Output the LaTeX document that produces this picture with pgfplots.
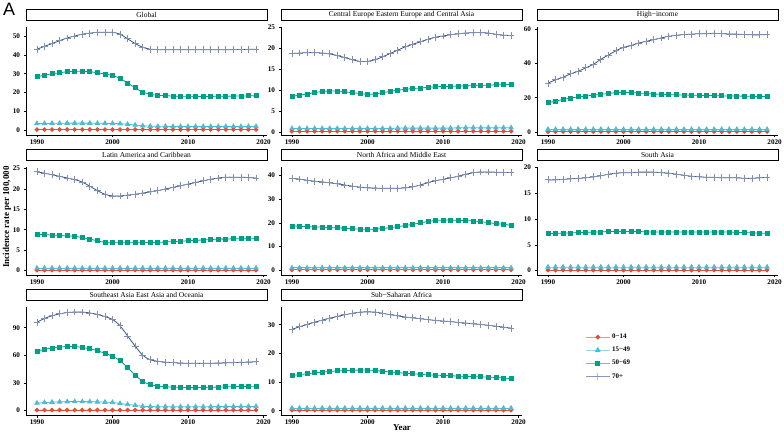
\documentclass[border=0pt]{standalone}
\usepackage{pgfplots}
\usepackage{pgfplotstable}
\pgfplotsset{compat=1.18}
\usepackage{fontspec}
\setmainfont{Liberation Serif}
\newfontfamily\labfont{Liberation Sans}
\definecolor{c0}{HTML}{E64B35}
\definecolor{c1}{HTML}{4DBBD5}
\definecolor{c2}{HTML}{00A087}
\definecolor{c3}{HTML}{3C5488}

% columns: year, 0-14, 15-49, 50-69, 70+
\pgfplotstableread{
yr a b c d
1990 0.3 3.5 28.3 43.0
1991 0.3 3.5 29.2 44.5
1992 0.3 3.6 29.9 46.0
1993 0.3 3.6 30.5 47.5
1994 0.3 3.7 31.0 49.0
1995 0.3 3.7 31.3 50.0
1996 0.3 3.7 31.3 51.0
1997 0.3 3.7 31.0 51.5
1998 0.3 3.6 30.5 52.0
1999 0.3 3.6 29.8 52.0
2000 0.3 3.5 29.0 52.0
2001 0.3 3.4 27.5 51.0
2002 0.3 3.1 25.0 48.5
2003 0.3 2.7 22.5 46.0
2004 0.3 2.3 20.2 44.0
2005 0.3 2.1 19.0 43.0
2006 0.3 2.0 18.5 42.8
2007 0.3 2.0 18.3 42.7
2008 0.3 1.9 18.1 42.7
2009 0.3 1.9 18.0 42.7
2010 0.3 1.9 18.0 42.7
2011 0.3 1.9 17.9 42.7
2012 0.3 1.9 17.9 42.7
2013 0.3 1.9 17.9 42.7
2014 0.3 1.9 18.0 42.7
2015 0.3 1.9 18.0 42.7
2016 0.3 1.9 18.1 42.8
2017 0.3 1.9 18.1 42.8
2018 0.3 1.9 18.2 42.9
2019 0.3 1.9 18.2 43.0
}\tglobal

\pgfplotstableread{
yr a b c d
1990 0.15 0.8 8.5 18.8
1991 0.15 0.8 8.8 18.9
1992 0.15 0.8 9.1 19.0
1993 0.15 0.8 9.4 19.0
1994 0.15 0.8 9.7 18.9
1995 0.15 0.8 9.8 18.7
1996 0.15 0.8 9.8 18.3
1997 0.15 0.8 9.6 17.8
1998 0.15 0.8 9.4 17.3
1999 0.15 0.8 9.2 16.9
2000 0.15 0.8 9.0 16.9
2001 0.15 0.8 9.1 17.3
2002 0.15 0.8 9.4 18.0
2003 0.15 0.8 9.7 18.8
2004 0.15 0.9 10.0 19.6
2005 0.15 0.9 10.2 20.4
2006 0.15 0.9 10.4 21.0
2007 0.15 0.9 10.5 21.6
2008 0.15 0.9 10.7 22.2
2009 0.15 0.9 10.8 22.7
2010 0.15 0.9 10.9 23.0
2011 0.15 0.9 10.9 23.3
2012 0.15 1.0 11.0 23.5
2013 0.15 1.0 11.0 23.7
2014 0.15 1.0 11.1 23.8
2015 0.15 1.0 11.2 23.8
2016 0.15 1.0 11.2 23.7
2017 0.15 1.0 11.3 23.4
2018 0.15 1.0 11.3 23.2
2019 0.15 1.0 11.4 23.1
}\tceea

\pgfplotstableread{
yr a b c d
1990 0.2 1.5 17.0 28.5
1991 0.2 1.5 18.0 30.5
1992 0.2 1.5 19.0 32.0
1993 0.2 1.5 19.8 34.0
1994 0.2 1.5 20.5 35.5
1995 0.2 1.5 21.0 37.5
1996 0.2 1.5 21.5 39.5
1997 0.2 1.5 22.0 42.5
1998 0.2 1.5 22.5 45.0
1999 0.2 1.5 23.0 47.5
2000 0.2 1.5 23.2 49.5
2001 0.2 1.5 23.0 50.5
2002 0.2 1.5 22.8 52.0
2003 0.2 1.5 22.5 53.0
2004 0.2 1.5 22.2 54.0
2005 0.2 1.5 22.0 55.0
2006 0.2 1.5 21.8 56.0
2007 0.2 1.5 21.7 56.5
2008 0.2 1.5 21.6 57.0
2009 0.2 1.5 21.5 57.2
2010 0.2 1.5 21.4 57.5
2011 0.2 1.5 21.3 57.5
2012 0.2 1.5 21.2 57.7
2013 0.2 1.5 21.1 57.5
2014 0.2 1.5 21.0 57.3
2015 0.2 1.5 21.0 57.2
2016 0.2 1.5 20.9 57.0
2017 0.2 1.5 20.8 56.8
2018 0.2 1.5 20.8 56.8
2019 0.2 1.5 20.8 57.0
}\thigh

\pgfplotstableread{
yr a b c d
1990 0.1 0.6 8.9 24.2
1991 0.1 0.6 8.8 23.9
1992 0.1 0.6 8.7 23.5
1993 0.1 0.6 8.6 23.1
1994 0.1 0.6 8.5 22.7
1995 0.1 0.6 8.4 22.3
1996 0.1 0.6 8.1 21.7
1997 0.1 0.6 7.7 20.7
1998 0.1 0.6 7.3 19.6
1999 0.1 0.6 6.9 18.7
2000 0.1 0.6 6.8 18.3
2001 0.1 0.6 6.8 18.3
2002 0.1 0.6 6.8 18.5
2003 0.1 0.6 6.8 18.7
2004 0.1 0.6 6.8 19.0
2005 0.1 0.6 6.9 19.3
2006 0.1 0.6 6.9 19.6
2007 0.1 0.6 7.0 20.0
2008 0.1 0.6 7.1 20.4
2009 0.1 0.6 7.2 20.8
2010 0.1 0.6 7.3 21.2
2011 0.1 0.6 7.4 21.6
2012 0.1 0.6 7.5 22.0
2013 0.1 0.6 7.6 22.4
2014 0.1 0.6 7.7 22.7
2015 0.1 0.6 7.7 22.9
2016 0.1 0.6 7.8 22.9
2017 0.1 0.6 7.8 22.9
2018 0.1 0.6 7.8 22.8
2019 0.1 0.6 7.8 22.7
}\tlatam

\pgfplotstableread{
yr a b c d
1990 0.2 1.0 18.7 38.8
1991 0.2 1.0 18.6 38.5
1992 0.2 1.0 18.4 38.0
1993 0.2 1.0 18.3 37.6
1994 0.2 1.0 18.2 37.3
1995 0.2 1.0 18.0 36.9
1996 0.2 1.0 17.9 36.5
1997 0.2 1.0 17.7 36.0
1998 0.2 1.0 17.5 35.5
1999 0.2 1.0 17.4 35.1
2000 0.2 1.0 17.3 34.8
2001 0.2 1.0 17.4 34.7
2002 0.2 1.0 17.6 34.6
2003 0.2 1.0 18.0 34.6
2004 0.2 1.0 18.4 34.6
2005 0.2 1.0 18.9 34.8
2006 0.2 1.0 19.4 35.2
2007 0.2 1.0 20.0 36.0
2008 0.2 1.0 20.6 37.0
2009 0.2 1.0 21.0 37.8
2010 0.2 1.0 21.2 38.4
2011 0.2 1.0 21.2 39.0
2012 0.2 1.0 21.1 39.7
2013 0.2 1.0 21.0 40.5
2014 0.2 1.0 20.8 41.2
2015 0.2 1.0 20.5 41.5
2016 0.2 1.0 20.1 41.5
2017 0.2 1.0 19.7 41.4
2018 0.2 1.0 19.4 41.3
2019 0.2 1.0 19.0 41.3
}\tname

\pgfplotstableread{
yr a b c d
1990 0.1 0.7 7.2 17.6
1991 0.1 0.7 7.2 17.6
1992 0.1 0.7 7.3 17.7
1993 0.1 0.7 7.3 17.8
1994 0.1 0.7 7.4 17.9
1995 0.1 0.7 7.4 18.0
1996 0.1 0.7 7.5 18.2
1997 0.1 0.7 7.5 18.4
1998 0.1 0.7 7.6 18.7
1999 0.1 0.7 7.6 18.9
2000 0.1 0.7 7.6 19.0
2001 0.1 0.7 7.6 19.0
2002 0.1 0.7 7.6 19.1
2003 0.1 0.7 7.5 19.1
2004 0.1 0.7 7.5 19.1
2005 0.1 0.7 7.5 19.0
2006 0.1 0.7 7.5 18.9
2007 0.1 0.7 7.5 18.7
2008 0.1 0.7 7.5 18.5
2009 0.1 0.7 7.5 18.3
2010 0.1 0.7 7.5 18.2
2011 0.1 0.7 7.5 18.1
2012 0.1 0.7 7.5 18.1
2013 0.1 0.7 7.5 18.0
2014 0.1 0.7 7.5 18.0
2015 0.1 0.7 7.4 18.0
2016 0.1 0.7 7.4 17.9
2017 0.1 0.7 7.3 17.9
2018 0.1 0.7 7.3 18.0
2019 0.1 0.7 7.2 18.1
}\tsouth

\pgfplotstableread{
yr a b c d
1990 0.4 8.0 64.5 96.0
1991 0.4 8.5 66.5 100.0
1992 0.4 9.0 68.0 103.0
1993 0.4 9.2 69.0 105.0
1994 0.4 9.5 69.5 106.5
1995 0.4 9.6 69.5 107.0
1996 0.4 9.6 68.5 107.0
1997 0.4 9.5 67.0 106.0
1998 0.4 9.3 65.0 104.5
1999 0.4 9.0 62.0 102.0
2000 0.4 8.6 59.0 99.0
2001 0.4 7.5 54.0 92.0
2002 0.4 6.5 46.5 81.0
2003 0.4 5.5 38.5 70.0
2004 0.4 4.5 31.5 60.0
2005 0.4 4.2 28.0 55.0
2006 0.4 4.0 26.5 53.5
2007 0.4 4.0 25.8 52.5
2008 0.4 4.0 25.3 52.0
2009 0.4 4.0 25.0 51.5
2010 0.4 4.0 25.0 51.3
2011 0.4 4.0 25.0 51.2
2012 0.4 4.0 25.0 51.2
2013 0.4 4.1 25.2 51.3
2014 0.4 4.1 25.4 51.5
2015 0.4 4.2 25.6 51.7
2016 0.4 4.2 25.8 52.0
2017 0.4 4.3 26.0 52.3
2018 0.4 4.3 26.2 52.6
2019 0.4 4.3 26.3 53.0
}\tsea

\pgfplotstableread{
yr a b c d
1990 0.2 0.9 12.3 28.4
1991 0.2 0.9 12.6 29.3
1992 0.2 0.9 12.9 30.1
1993 0.2 0.9 13.2 30.9
1994 0.2 0.9 13.5 31.6
1995 0.2 0.9 13.7 32.3
1996 0.2 0.9 13.9 32.9
1997 0.2 0.9 14.0 33.5
1998 0.2 0.9 14.1 34.0
1999 0.2 0.9 14.2 34.4
2000 0.2 0.9 14.2 34.5
2001 0.2 0.9 14.0 34.4
2002 0.2 0.9 13.8 34.0
2003 0.2 0.9 13.5 33.5
2004 0.2 0.9 13.3 33.1
2005 0.2 0.9 13.1 32.7
2006 0.2 0.9 12.9 32.4
2007 0.2 0.9 12.7 32.1
2008 0.2 0.9 12.5 31.8
2009 0.2 0.9 12.4 31.5
2010 0.2 0.9 12.3 31.3
2011 0.2 0.9 12.2 31.1
2012 0.2 0.9 12.1 30.8
2013 0.2 0.9 12.0 30.6
2014 0.2 0.9 11.9 30.3
2015 0.2 0.9 11.8 30.1
2016 0.2 0.9 11.7 29.8
2017 0.2 0.9 11.6 29.5
2018 0.2 0.9 11.4 29.2
2019 0.2 0.9 11.2 28.8
}\tssa

\pgfplotsset{
  s0/.style={color=c0, line width=0.8bp, smooth, mark=*, mark size=1.9bp},
  s1/.style={color=c1, line width=0.8bp, smooth, mark=triangle*, mark size=2.5bp},
  s2/.style={color=c2, line width=0.8bp, smooth, mark=square*, mark size=2.0bp},
  s3/.style={color=c3, line width=0.8bp, smooth, mark=+, mark size=3.4bp, mark options={draw=c3!65, line width=0.8bp}},
  panel/.style={
    scale only axis, width=241bp, height=108bp, anchor=south west,
    xmin=1988.55, xmax=2020.45,
    xtick={1990,2000,2010,2020},
    axis x line*=bottom, axis y line*=left,
    axis line style={line width=0.6bp, black},
    tick align=outside, major tick length=2.5bp,
    tick style={line width=0.6bp, black},
    /pgf/number format/1000 sep={},
    /pgf/number format/assume math mode=true,
    ticklabel style={font=\bfseries\fontsize{7.2}{8}\selectfont, black},
    xticklabel style={yshift=1bp},
    title style={draw=black, line width=0.8bp, fill=white, minimum width=241bp, minimum height=11bp,
      inner sep=0pt, at={(0.5,1)}, anchor=south, yshift=0pt, font=\fontsize{7.5}{8}\selectfont},
  },
}
\newcommand{\fourplots}[1]{%
  \addplot[s0] table[x=yr,y=a] {#1};
  \addplot[s1] table[x=yr,y=b] {#1};
  \addplot[s2] table[x=yr,y=c] {#1};
  \addplot[s3] table[x=yr,y=d] {#1};
}

\begin{document}
\begin{tikzpicture}
\useasboundingbox (0bp,0bp) rectangle (784bp,433bp);
% Row 1
\begin{axis}[panel, at={(26bp,298bp)}, title={Global},
  ymin=-2.6, ymax=54.8, ytick={0,10,20,30,40,50}]
\fourplots{\tglobal}
\end{axis}
\begin{axis}[panel, at={(281bp,298bp)}, title={Central Europe Eastern Europe and Central Asia},
  ymin=-0.75, ymax=25.15, ytick={0,5,10,15,20,25}]
\fourplots{\tceea}
\end{axis}
\begin{axis}[panel, at={(537bp,298bp)}, title={High\textminus income},
  ymin=-1.8, ymax=61.4, ytick={0,20,40,60}]
\fourplots{\thigh}
\end{axis}
% Row 2
\begin{axis}[panel, at={(26bp,158bp)}, title={Latin America and Caribbean},
  ymin=-1.1, ymax=25.4, ytick={0,5,10,15,20,25}]
\fourplots{\tlatam}
\end{axis}
\begin{axis}[panel, at={(281bp,158bp)}, title={North Africa and Middle East},
  ymin=-2.0, ymax=43.6, ytick={0,10,20,30,40}]
\fourplots{\tname}
\end{axis}
\begin{axis}[panel, at={(537bp,158bp)}, title={South Asia},
  ymin=-0.85, ymax=20.1, ytick={0,5,10,15,20}]
\fourplots{\tsouth}
\end{axis}
% Row 3
\begin{axis}[panel, at={(26bp,18bp)}, title={Southeast Asia East Asia and Oceania},
  ymin=-5.0, ymax=112.5, ytick={0,30,60,90}]
\fourplots{\tsea}
\end{axis}
\begin{axis}[panel, at={(281bp,18bp)}, title={Sub\textminus Saharan Africa},
  ymin=-1.5, ymax=36.2, ytick={0,10,20,30}]
\fourplots{\tssa}
\end{axis}
% Legend
\begin{axis}[scale only axis, width=241bp, height=108bp, at={(537bp,18bp)}, anchor=south west,
  hide axis, xmin=0, xmax=1, ymin=0, ymax=1,
  legend style={draw=none, fill=none, at={(axis description cs:0.2,0.77)}, anchor=north west,
    font=\bfseries\fontsize{7}{8}\selectfont, row sep=3bp, inner sep=0pt,
    legend cell align=left},
  legend image code/.code={\draw[#1] plot coordinates {(0bp,0bp) (12bp,0bp) (24bp,0bp)};}]
\addlegendimage{s0, mark repeat=2, mark phase=2, draw opacity=0.6, mark options={draw opacity=1}}
\addlegendentry{0\textminus 14}
\addlegendimage{s1, mark repeat=2, mark phase=2, draw opacity=0.6, mark options={draw opacity=1}}
\addlegendentry{15\textminus 49}
\addlegendimage{s2, mark repeat=2, mark phase=2, draw opacity=0.6, mark options={draw opacity=1}}
\addlegendentry{50\textminus 69}
\addlegendimage{s3, mark repeat=2, mark phase=2, draw opacity=0.6}
\addlegendentry{70+}
\end{axis}
% Titles
\node[rotate=90, font=\bfseries\fontsize{9}{10}\selectfont] at (7bp,216bp) {Incidence rate per 100,000};
\node[font=\bfseries\fontsize{9}{10}\selectfont] at (402bp,5bp) {Year};
\node[font=\labfont\fontsize{18}{19}\selectfont, anchor=north west, inner sep=0pt] at (3bp,430bp) {A};
\end{tikzpicture}
\end{document}
